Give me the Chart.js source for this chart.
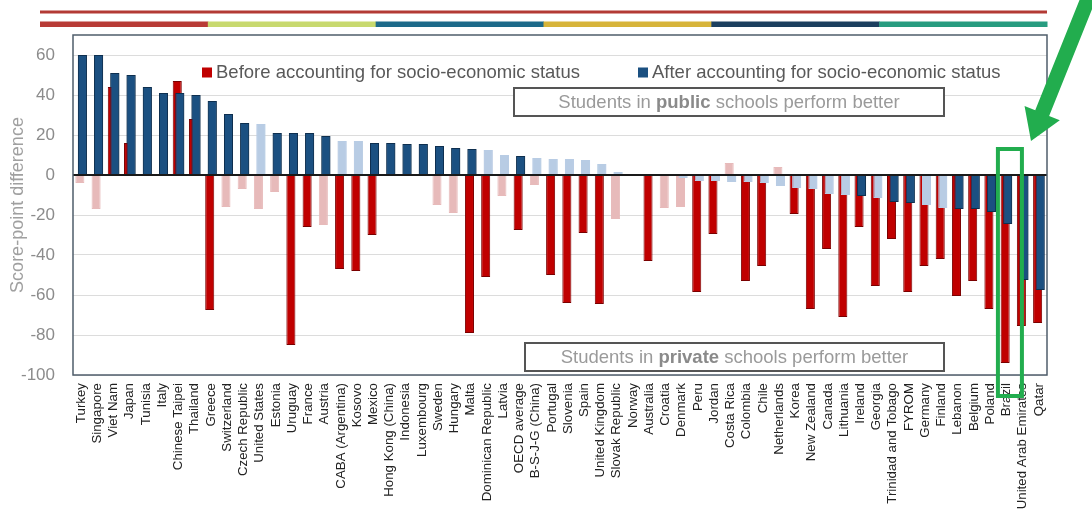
<!DOCTYPE html>
<html>
<head>
<meta charset="utf-8">
<script src="https://cdn.jsdelivr.net/npm/chart.js@4.4.1/dist/chart.umd.min.js"></script>
<style>
  body { margin: 0; background: #fff; }
</style>
</head>
<body>
<canvas id="chart" width="1092" height="511"></canvas>
<script>
var countries = ['Turkey', 'Singapore', 'Viet Nam', 'Japan', 'Tunisia', 'Italy', 'Chinese Taipei', 'Thailand',
  'Greece', 'Switzerland', 'Czech Republic', 'United States', 'Estonia', 'Uruguay', 'France', 'Austria',
  'CABA (Argentina)', 'Kosovo', 'Mexico', 'Hong Kong (China)', 'Indonesia', 'Luxembourg', 'Sweden', 'Hungary',
  'Malta', 'Dominican Republic', 'Latvia', 'OECD average', 'B-S-J-G (China)', 'Portugal', 'Slovenia', 'Spain',
  'United Kingdom', 'Slovak Republic', 'Norway', 'Australia', 'Croatia', 'Denmark', 'Peru', 'Jordan',
  'Costa Rica', 'Colombia', 'Chile', 'Netherlands', 'Korea', 'New Zealand', 'Canada', 'Lithuania',
  'Ireland', 'Georgia', 'Trinidad and Tobago', 'FYROM', 'Germany', 'Finland', 'Lebanon', 'Belgium',
  'Poland', 'Brazil', 'United Arab Emirates', 'Qatar'];

// score-point difference, public minus private
var before = [-4, -17, 44, 16, 0, 0, 47, 28,
  -67.5, -16, -7, -17, -8.5, -85, -26, -25,
  -47, -48, -30, 0, 0, 0, -15, -19,
  -79, -51, -10.5, -27.5, -5, -50, -64, -29,
  -64.5, -22, 0, -43, -16.5, -16, -58.5, -29.5,
  6, -53, -45.5, 4, -19.5, -67, -37, -71,
  -26, -55.5, -32, -58.5, -45.5, -42, -60.5, -53,
  -67, -94, -75.5, -74];
var after = [60, 60, 51, 50, 44, 41, 41, 40,
  37, 30.5, 26, 25.5, 21, 21, 21, 19.5,
  17, 17, 16, 16, 15.5, 15.5, 14.5, 13.5,
  13, 12.5, 10, 9.5, 8.5, 8, 8, 7.5,
  5.5, 1.5, 0, 0, 0, -1.5, -3, -3,
  -3.5, -3.5, -4, -5.5, -6.5, -7, -9.5, -10,
  -10.5, -11.5, -13.5, -14, -15, -16.5, -17, -17,
  -18.5, -24.5, -52.5, -57.5];
// 1 = statistically significant difference (dark bar), 0 = not significant (light bar)
var beforeSig = [0, 0, 1, 1, 0, 0, 1, 1,
  1, 0, 0, 0, 0, 1, 1, 0,
  1, 1, 1, 0, 0, 0, 0, 0,
  1, 1, 0, 1, 0, 1, 1, 1,
  1, 0, 0, 1, 0, 0, 1, 1,
  0, 1, 1, 0, 1, 1, 1, 1,
  1, 1, 1, 1, 1, 1, 1, 1,
  1, 1, 1, 1];
var afterSig = [1, 1, 1, 1, 1, 1, 1, 1,
  1, 1, 1, 0, 1, 1, 1, 1,
  0, 0, 1, 1, 1, 1, 1, 1,
  1, 0, 0, 1, 0, 0, 0, 0,
  0, 0, 0, 0, 0, 0, 0, 0,
  0, 0, 0, 0, 0, 0, 0, 0,
  1, 0, 1, 1, 0, 0, 1, 1,
  1, 1, 1, 1];

var seriesNames = ['Before accounting for socio-economic status', 'After accounting for socio-economic status'];
var yTitle = 'Score-point difference';
var noteTop = ['Students in ', 'public', ' schools perform better'];
var noteBottom = ['Students in ', 'private', ' schools perform better'];
var highlighted = 'Brazil';

var RED = '#c00000', RED_LIGHT = '#e7baba', BLUE = '#1b5081', BLUE_LIGHT = '#b8cce4';
var FONT = '"Liberation Sans", Arial, sans-serif';

function drawNote(ctx, parts, cx, cy) {
  var fonts = ['18.5px ' + FONT, 'bold 18.5px ' + FONT, '18.5px ' + FONT];
  var colors = ['#9a9a9a', '#8a8a8a', '#9a9a9a'];
  var w = [], total = 0;
  for (var i = 0; i < 3; i++) { ctx.font = fonts[i]; w[i] = ctx.measureText(parts[i]).width; total += w[i]; }
  var x = cx - total / 2;
  ctx.textAlign = 'left';
  ctx.textBaseline = 'middle';
  for (var j = 0; j < 3; j++) {
    ctx.font = fonts[j];
    ctx.fillStyle = colors[j];
    ctx.fillText(parts[j], x, cy);
    x += w[j];
  }
}

var decor = {
  id: 'decor',
  beforeDraw: function(chart) {
    var ctx = chart.ctx, a = chart.chartArea;
    ctx.save();
    ctx.fillStyle = '#b33a35';
    ctx.fillRect(40, 10.5, a.right - 40, 3);
    var bands = ['#b83b36', '#c8d96f', '#1d6a8a', '#d7b43a', '#1c3f5f', '#289c80'];
    var w = (a.right - 40) / bands.length;
    bands.forEach(function(c, i) {
      ctx.fillStyle = c;
      ctx.fillRect(40 + i * w, 21.5, w + 0.5, 5.5);
    });
    ctx.restore();
  },
  afterDatasetsDraw: function(chart) {
    var ctx = chart.ctx, a = chart.chartArea;
    // blue bars sit in front of the red ones
    chart.getDatasetMeta(1).controller.draw();

    ctx.save();
    var y0 = chart.scales.y.getPixelForValue(0);
    ctx.strokeStyle = '#1a1a1a';
    ctx.lineWidth = 2;
    ctx.beginPath(); ctx.moveTo(a.left, y0); ctx.lineTo(a.right, y0); ctx.stroke();

    ctx.strokeStyle = '#4f5d6b';
    ctx.lineWidth = 1.5;
    ctx.strokeRect(a.left, a.top, a.right - a.left, a.bottom - a.top);

    // legend inside the plot
    var lx = [a.left + 129, a.left + 565], ly = a.top + 37.5;
    [RED, BLUE].forEach(function(c, i) {
      ctx.fillStyle = c;
      ctx.fillRect(lx[i], ly - 5, 10, 10);
      ctx.fillStyle = '#595959';
      ctx.font = '18.5px ' + FONT;
      ctx.textAlign = 'left';
      ctx.textBaseline = 'middle';
      ctx.fillText(seriesNames[i], lx[i] + 14, ly);
    });

    // note boxes
    ctx.strokeStyle = '#555';
    ctx.lineWidth = 2;
    ctx.fillStyle = '#fff';
    ctx.fillRect(514, 88, 430, 28);
    ctx.strokeRect(514, 88, 430, 28);
    drawNote(ctx, noteTop, 729, 102.5);
    ctx.fillStyle = '#fff';
    ctx.fillRect(525, 343, 419, 28);
    ctx.strokeRect(525, 343, 419, 28);
    drawNote(ctx, noteBottom, 734.5, 357.5);
    ctx.restore();
  },
  afterDraw: function(chart) {
    var ctx = chart.ctx;
    var cx = chart.scales.x.getPixelForValue(countries.indexOf(highlighted)) + 3;
    ctx.save();
    ctx.strokeStyle = '#22ad4e';
    ctx.lineWidth = 4;
    ctx.strokeRect(cx - 11.5, 149, 24, 247);

    // arrow pointing at the highlighted bar
    var tail = [1090, -6], tip = [1031, 141];
    var dx = tip[0] - tail[0], dy = tip[1] - tail[1];
    var len = Math.sqrt(dx * dx + dy * dy);
    var ux = dx / len, uy = dy / len, nx = -uy, ny = ux;
    var head = 30, hw = 19, sw = 7.5;
    var bx = tip[0] - ux * head, by = tip[1] - uy * head;
    ctx.fillStyle = '#22ad4e';
    ctx.beginPath();
    ctx.moveTo(tail[0] + nx * sw, tail[1] + ny * sw);
    ctx.lineTo(bx + nx * sw, by + ny * sw);
    ctx.lineTo(bx + nx * hw, by + ny * hw);
    ctx.lineTo(tip[0], tip[1]);
    ctx.lineTo(bx - nx * hw, by - ny * hw);
    ctx.lineTo(bx - nx * sw, by - ny * sw);
    ctx.lineTo(tail[0] - nx * sw, tail[1] - ny * sw);
    ctx.closePath();
    ctx.fill();
    ctx.restore();
  }
};

const ctx = document.getElementById('chart').getContext('2d');
const myChart = new Chart(ctx, {
  type: 'bar',
  data: {
    labels: countries,
    datasets: [{
      label: seriesNames[0],
      data: before,
      backgroundColor: function(c) { return beforeSig[c.dataIndex] ? RED : RED_LIGHT; },
      borderColor: function(c) { return beforeSig[c.dataIndex] ? '#7a0000' : RED_LIGHT; },
      borderWidth: 1
    }, {
      label: seriesNames[1],
      data: after,
      backgroundColor: function(c) { return afterSig[c.dataIndex] ? BLUE : BLUE_LIGHT; },
      borderColor: function(c) { return afterSig[c.dataIndex] ? '#0e2f4f' : BLUE_LIGHT; },
      borderWidth: 1
    }]
  },
  options: {
    responsive: false,
    animation: false,
    devicePixelRatio: 1,
    categoryPercentage: 0.31,
    barPercentage: 3.6,
    layout: { padding: { top: 35, right: 45, left: 0, bottom: 0 } },
    plugins: {
      legend: { display: false },
      tooltip: { enabled: false }
    },
    scales: {
      x: {
        grid: { display: false, drawTicks: false },
        border: { display: false },
        ticks: {
          autoSkip: false,
          minRotation: 90,
          maxRotation: 90,
          padding: 8,
          color: '#222',
          font: { family: FONT, size: 13.3 }
        },
        afterFit: function(s) { s.height = 136; }
      },
      y: {
        min: -100,
        max: 70,
        grid: { color: '#dcdcdc', drawTicks: false },
        border: { display: false },
        ticks: {
          stepSize: 20,
          includeBounds: false,
          padding: 18,
          color: '#8c8c8c',
          font: { family: FONT, size: 17 }
        },
        title: {
          display: true,
          text: yTitle,
          color: '#a0a0a0',
          padding: { top: 7, bottom: 0 },
          font: { family: FONT, size: 18 }
        },
        afterFit: function(s) { s.width = 73; }
      }
    }
  },
  plugins: [decor]
});
</script>
</body>
</html>
